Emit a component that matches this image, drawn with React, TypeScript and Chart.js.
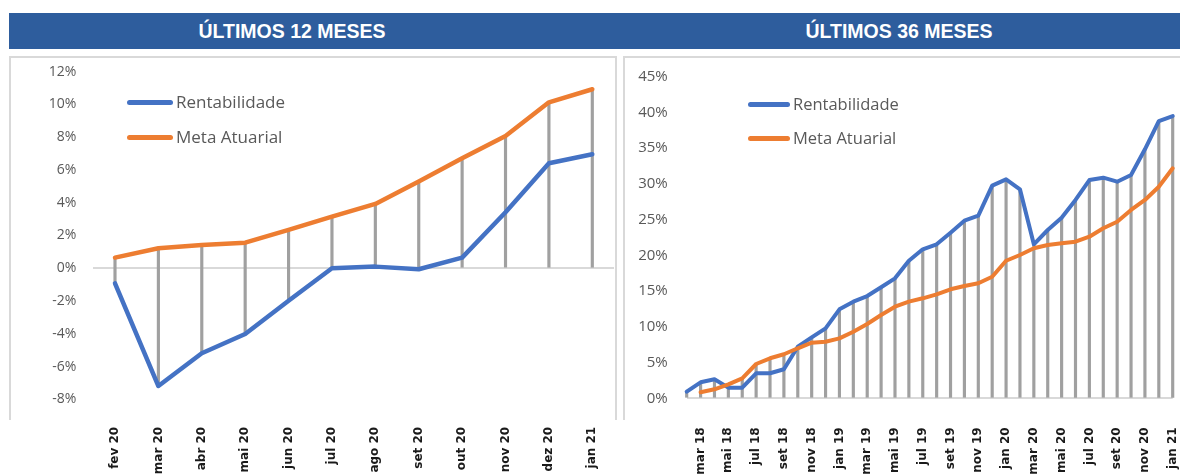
import React, { useEffect, useRef } from "react";
import { Chart, registerables } from "chart.js";

Chart.register(...registerables);

// ---------- DATA ----------
const months12 = ["fev 20", "mar 20", "abr 20", "mai 20", "jun 20", "jul 20", "ago 20", "set 20", "out 20", "nov 20", "dez 20", "jan 21"];
const rent12 = [-0.92, -7.19, -5.19, -4.01, -1.98, 0.0, 0.1, -0.06, 0.65, 3.42, 6.41, 6.96];
const meta12 = [0.65, 1.22, 1.42, 1.56, 2.34, 3.15, 3.93, 5.29, 6.72, 8.08, 10.13, 10.93];

const months36 = [
  "fev 18", "mar 18", "abr 18", "mai 18", "jun 18", "jul 18", "ago 18", "set 18", "out 18", "nov 18", "dez 18",
  "jan 19", "fev 19", "mar 19", "abr 19", "mai 19", "jun 19", "jul 19", "ago 19", "set 19", "out 19", "nov 19", "dez 19",
  "jan 20", "fev 20", "mar 20", "abr 20", "mai 20", "jun 20", "jul 20", "ago 20", "set 20", "out 20", "nov 20", "dez 20",
  "jan 21",
];
const rent36 = [
  0.93, 2.24, 2.66, 1.49, 1.49, 3.5, 3.5, 4.06, 7.22, 8.53, 9.79, 12.45, 13.52, 14.31, 15.53, 16.79, 19.25, 20.85,
  21.55, 23.17, 24.85, 25.55, 29.75, 30.64, 29.24, 21.55, 23.55, 25.27, 27.75, 30.54, 30.87, 30.31, 31.24, 34.84, 38.8, 39.5,
];
const meta36 = [
  null, 0.84, 1.26, 1.96, 2.8, 4.8, 5.6, 6.16, 7.0, 7.78, 7.92, 8.39, 9.32, 10.4, 11.66, 12.82, 13.52, 13.99,
  14.55, 15.25, 15.71, 16.09, 17.01, 19.25, 20.05, 20.99, 21.45, 21.69, 21.91, 22.61, 23.79, 24.71, 26.35, 27.75, 29.61, 32.18,
];

const seriesNames = ["Rentabilidade", "Meta Atuarial"];
const titles = ["ÚLTIMOS 12 MESES", "ÚLTIMOS 36 MESES"];

// ---------- STYLE ----------
const BLUE = "#4472C4";
const ORANGE = "#ED7D31";
const DROP = "#A0A0A0";
const HEADER = "#2E5D9D";
const BORDER = "#D9D9D9";
const TEXT = "#595959";

type Area = { left: number; top: number; right: number; bottom: number };

function makeConfig(o: {
  labels: string[];
  rent: (number | null)[];
  meta: (number | null)[];
  min: number;
  max: number;
  step: number;
  area: Area;
  w: number;
  h: number;
  offset: boolean;
  lineWidth: number;
  yFontSize: number;
  yPad: number;
  xPad: number;
  every: number;
}): any {
  const drop = o.labels.map((_, i) => {
    const vals = [0, o.rent[i], o.meta[i]].filter((v) => v !== null && v !== undefined) as number[];
    return [Math.min(...vals), Math.max(...vals)];
  });
  return {
    type: "line",
    data: {
      labels: o.labels,
      datasets: [
        {
          type: "line",
          label: seriesNames[1],
          data: o.meta,
          borderColor: ORANGE,
          backgroundColor: ORANGE,
          borderWidth: o.lineWidth,
          pointRadius: 0,
          tension: 0,
          borderJoinStyle: "round",
          borderCapStyle: "round",
          clip: false,
          order: 0,
        },
        {
          type: "line",
          label: seriesNames[0],
          data: o.rent,
          borderColor: BLUE,
          backgroundColor: BLUE,
          borderWidth: o.lineWidth,
          pointRadius: 0,
          tension: 0,
          borderJoinStyle: "round",
          borderCapStyle: "round",
          clip: false,
          order: 1,
        },
        {
          type: "bar",
          label: "drop",
          data: drop,
          backgroundColor: DROP,
          borderWidth: 0,
          barThickness: 2.5,
          grouped: false,
          clip: false,
          order: 10,
        },
      ],
    },
    options: {
      responsive: false,
      maintainAspectRatio: false,
      animation: false,
      events: [],
      layout: {
        padding: { left: 0, top: o.area.top, right: o.w - o.area.right, bottom: 0 },
      },
      plugins: { legend: { display: false }, tooltip: { enabled: false } },
      scales: {
        x: {
          type: "category",
          offset: o.offset,
          grid: { display: false, drawTicks: false },
          border: { display: false },
          afterFit: (s: any) => {
            s.height = o.h - o.area.bottom;
            s.paddingLeft = 0;
            s.paddingRight = 0;
          },
          ticks: {
            autoSkip: false,
            minRotation: 90,
            maxRotation: 90,
            padding: o.xPad,
            color: "#1A1A1A",
            font: { family: "DejaVu Sans", weight: "bold", size: 12 },
            callback: (_v: any, i: number) => (o.every === 1 || i % o.every === o.every - 1 ? o.labels[i] : ""),
          },
        },
        y: {
          min: o.min,
          max: o.max,
          grid: {
            drawTicks: false,
            lineWidth: 2,
            color: (ctx: any) => (ctx.tick && ctx.tick.value === 0 ? BORDER : "rgba(0,0,0,0)"),
          },
          border: { display: false },
          afterFit: (s: any) => {
            s.width = o.area.left;
            s.paddingTop = 0;
            s.paddingBottom = 0;
          },
          ticks: {
            stepSize: o.step,
            padding: o.yPad,
            color: TEXT,
            font: { family: "Open Sans", size: o.yFontSize },
            callback: (v: any) => v + "%",
          },
        },
      },
    },
  };
}

function ChartCanvas({ config, left, top, width, height }: any) {
  const ref = useRef<HTMLCanvasElement>(null);
  useEffect(() => {
    const chart = new Chart(ref.current as HTMLCanvasElement, config);
    return () => chart.destroy();
  }, []);
  return (
    <canvas
      ref={ref}
      width={width}
      height={height}
      style={{ position: "absolute", left, top, width, height }}
    />
  );
}

function Legend({ left, top, lineW, gap, rowGap, fontSize }: any) {
  const items = [
    { name: seriesNames[0], color: BLUE },
    { name: seriesNames[1], color: ORANGE },
  ];
  return (
    <>
      {items.map((it, i) => (
        <div
          key={it.name}
          style={{
            position: "absolute",
            left,
            top: top + i * rowGap - 12,
            height: 24,
            display: "flex",
            alignItems: "center",
            whiteSpace: "nowrap",
          }}
        >
          <div style={{ width: lineW, height: 4.5, borderRadius: 3, background: it.color }} />
          <span
            style={{
              marginLeft: gap,
              fontFamily: "'Open Sans', sans-serif",
              fontSize,
              color: TEXT,
              lineHeight: "24px",
            }}
          >
            {it.name}
          </span>
        </div>
      ))}
    </>
  );
}

export default function App() {
  const cfg12 = makeConfig({
    labels: months12,
    rent: rent12,
    meta: meta12,
    min: -8,
    max: 12,
    step: 2,
    area: { left: 93.3, top: 71.7, right: 614, bottom: 399.3 },
    w: 620,
    h: 476,
    offset: true,
    lineWidth: 4.5,
    yFontSize: 14,
    yPad: 17,
    xPad: 27.5,
    every: 1,
  });
  const cfg36 = makeConfig({
    labels: months36,
    rent: rent36,
    meta: meta36,
    min: 0,
    max: 45,
    step: 5,
    area: { left: 66.7, top: 76.7, right: 552.7, bottom: 398.3 },
    w: 560,
    h: 476,
    offset: false,
    lineWidth: 4,
    yFontSize: 15,
    yPad: 19,
    xPad: 29,
    every: 2,
  });

  const titleStyle: React.CSSProperties = {
    position: "absolute",
    top: 13,
    height: 36,
    width: 400,
    lineHeight: "36px",
    textAlign: "center",
    color: "#FFFFFF",
    fontFamily: "'Liberation Sans', Arial, sans-serif",
    fontWeight: "bold",
    fontSize: 19.5,
  };

  return (
    <div
      style={{
        position: "fixed",
        left: 0,
        top: 0,
        width: 1180,
        height: 476,
        background: "#FFFFFF",
        overflow: "hidden",
      }}
    >
      <div style={{ position: "absolute", left: 9, top: 13, width: 1171, height: 36, background: HEADER }} />
      <div style={{ ...titleStyle, left: 292 - 200 }}>{titles[0]}</div>
      <div style={{ ...titleStyle, left: 899 - 200 }}>{titles[1]}</div>

      <div
        style={{
          position: "absolute",
          left: 9,
          top: 56,
          width: 608,
          height: 364,
          boxSizing: "border-box",
          border: `2px solid ${BORDER}`,
          borderBottom: "none",
        }}
      />
      <div
        style={{
          position: "absolute",
          left: 623,
          top: 56,
          width: 600,
          height: 364,
          boxSizing: "border-box",
          border: `2px solid ${BORDER}`,
          borderBottom: "none",
        }}
      />

      <ChartCanvas config={cfg12} left={0} top={0} width={620} height={476} />
      <ChartCanvas config={cfg36} left={620} top={0} width={560} height={476} />

      <Legend left={127} top={102.3} lineW={46} gap={3} rowGap={35} fontSize={17} />
      <Legend left={748} top={104.3} lineW={42} gap={3} rowGap={34} fontSize={16.5} />
    </div>
  );
}
